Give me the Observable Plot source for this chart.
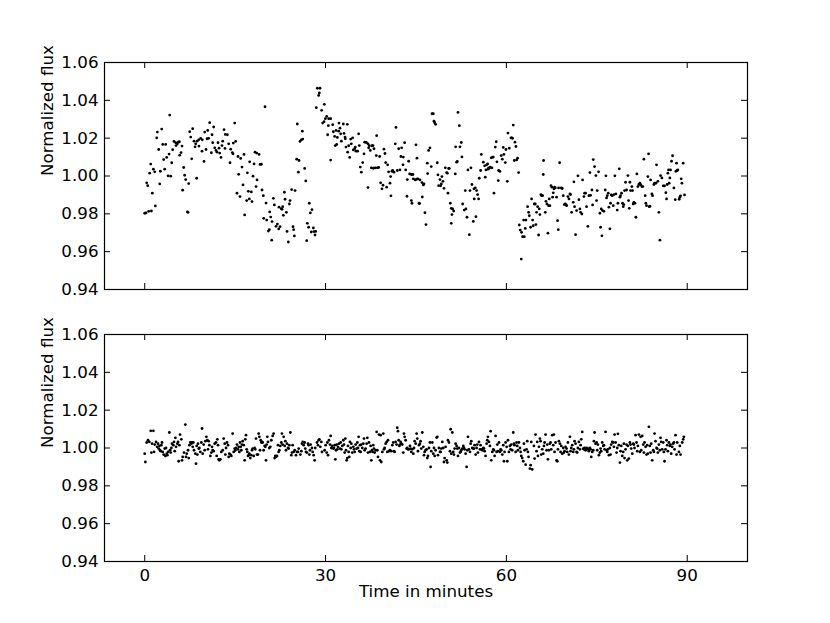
<!DOCTYPE html>
<html><head><meta charset="utf-8">
<script src="https://cdn.jsdelivr.net/npm/d3@7"></script>
<script src="https://cdn.jsdelivr.net/npm/@observablehq/plot@0.6"></script>
<style>
body{margin:0;background:#fff;}
#chart{position:relative;width:830px;height:623px;}
#chart svg{position:absolute;left:0;}
</style></head><body><div id="chart"></div>
<script>
const xDomain = [-6.67, 100];
const yDomain = [0.94, 1.06];
const xTicks = [0, 30, 60, 90];
const yTicks = [0.94, 0.96, 0.98, 1.00, 1.02, 1.04, 1.06];
const yLabel = "Normalized flux";
const xLabel = "Time in minutes";

// [time (min), normalized flux] — upper panel (raw light curve)
const topPoints = [
[0,0.9803],[0.22,0.9805],[0.66,0.9813],[1.11,0.9815],[1.77,0.9842],[0.33,0.9964],[0.5,0.9949],[1,1.0063],[0.83,1.0015],[1.44,1.0036],[1.66,1.0022],[1.27,0.9909],[2.49,0.9958],[2.6,1.0025],[2.1,1.0232],[2.82,1.0248],[1.99,1.0202],[2.99,1.0167],[3.48,1.0167],[2.32,1.014],[4.15,1.0322],[3.15,1.0087],[3.65,1.0098],[4.04,1.0116],[3.32,1.0036],[3.87,1.0001],[4.31,0.9999],[4.48,1.007],[4.64,1.0139],[4.86,1.0183],[5.14,1.0176],[5.42,1.017],[5.58,1.0179],[5.75,1.0181],[5.2,1.0161],[6.03,1.0124],[5.8,1.011],[6.19,1.0158],[6.47,1.0045],[6.63,1.0004],[6.8,0.9981],[7.3,0.996],[6.3,0.9925],[7.08,0.981],[7.19,0.9808],[7.46,1.0234],[7.96,1.025],[7.63,1.0206],[8.18,1.0184],[8.46,1.017],[8.68,1.0184],[8.96,1.0191],[9.29,1.0199],[9.56,1.0191],[8.35,1.0154],[9.0,1.0158],[7.79,1.0091],[8.62,0.9988],[9.51,1.0131],[9.84,1.0077],[10.17,1.014],[9.95,1.0232],[10.45,1.0241],[10.78,1.0282],[11.44,1.0259],[11.17,1.0218],[10.61,1.0199],[10.34,1.0197],[11.06,1.0123],[11.28,1.0176],[11.61,1.0149],[11.83,1.0135],[12,1.0126],[12.16,1.0176],[12.44,1.0121],[12.33,1.0147],[12.66,1.0098],[12.82,1.0161],[12.94,1.0184],[13.32,1.0146],[13.16,1.0245],[13.38,1.022],[13.71,1.0218],[13.93,1.017],[14.26,1.0142],[14.54,1.0124],[14.7,1.0174],[14.93,1.028],[15.09,1.0183],[14.15,1.007],[14.65,1.0117],[15.48,1.0103],[15.92,1.0093],[16.47,1.0114],[16.14,1.0047],[15.59,1.0009],[16.31,0.9953],[15.31,0.9909],[15.81,0.9891],[16.92,0.987],[17.36,0.9879],[16.58,0.9794],[17.19,0.9919],[17.41,1.0075],[17.03,1.0017],
[17.69,0.9916],[17.8,0.9865],[18.14,1.0064],[17.97,0.9999],[18.3,1.0126],[18.58,1.0121],[18.97,1.0114],[19.13,1.0061],[19.35,1.0062],[18.63,0.9979],[18.47,0.9944],[19.46,0.9926],[19.68,0.9896],[19.96,1.0366],[19.74,0.9776],[20.24,0.9767],[20.9,0.9783],[20.73,0.981],[20.13,0.9857],[21.34,0.9882],[21.51,0.9847],[21.12,0.9759],[20.51,0.9709],[20.68,0.9716],[21.07,0.9661],[21.78,0.9734],[22.01,0.9746],[22.23,0.972],[22.45,0.9732],[22.28,0.9835],[22.67,0.9827],[22.89,0.9838],[22.78,0.9824],[23,0.9792],[23.28,0.9877],[23.5,0.9808],[23.17,0.9914],[23.61,0.9707],[23.83,0.9651],[24.11,0.987],[24,0.9852],[24.38,0.9928],[24.6,0.9732],[24.71,0.9716],[24.94,0.9923],[24.83,0.9683],[25.21,1.0089],[25.49,1.002],[25.32,1.0275],[25.6,1.0082],[25.76,1.0183],[25.99,1.0191],[26.21,1.0195],[26.15,1.0237],[26.54,1.004],[26.72,0.9974],[26.87,0.9658],[26.98,0.975],[27.2,0.9729],[27.31,0.9856],[27.48,0.9805],[27.75,0.9822],[27.98,0.9725],[28.09,0.9706],[28.25,0.9688],[28.36,0.9707],[27.64,0.9704],[28.64,1.0464],[29.08,1.0464],[28.97,1.0439],[28.86,1.0426],[28.47,1.0361],[29.36,1.0347],[29.8,1.0379],[30.19,1.0315],[29.97,1.0303],[29.75,1.0287],[29.52,1.028],[30.52,1.0303],[30.85,1.0303],[30.46,1.0266],[31.18,1.0271],[30.35,1.0218],[31.29,1.0234],[31.51,1.0209],[31.74,1.0241],[31.96,1.0204],[32.23,1.028],[32.4,1.0253],[32.18,1.0237],[32.51,1.0223],[32.62,1.0184],[32.95,1.0275],[33.06,1.0225],[33.23,1.0206],[33.28,1.0197],[33.61,1.0273],[31.85,1.0167],[31.62,1.0161],[30.85,1.0084],[33.39,1.0153],[33.84,1.016],[33.67,1.0126],[34,1.0098],[34.17,1.0195],[34.5,1.0202],[34.61,1.0138],[34.28,1.017],
[34.83,1.0144],[35.05,1.0131],[35.33,1.0131],[34.94,1.0153],[35.6,1.0161],[35.49,1.0223],[35.77,1.0047],[35.94,1.002],[36.16,1.0071],[36.38,1.0117],[36.49,1.0179],[36.76,1.0177],[37.04,1.017],[37.26,1.016],[37.15,1.0149],[37.43,1.0135],[37.7,1.016],[37.87,1.0161],[38.04,1.0144],[37.59,1.0043],[37.93,1.0041],[38.26,1.0043],[38.59,1.0043],[38.81,1.0045],[38.48,1.0213],[38.42,1.0108],[38.98,1.0103],[39.14,0.9964],[39.36,0.9932],[39.53,0.9951],[40.14,0.9941],[40.69,0.9962],[39.69,1.0142],[39.86,1.0119],[39.97,1.0071],[40.3,1.0059],[40.47,1.0022],[40.8,0.9997],[41.02,1.0025],[41.35,1.002],[41.13,1.0029],[41.57,1.017],[41.68,1.0257],[41.91,1.0029],[42.13,1.0144],[42.35,1.0032],[42.51,1.0103],[42.62,1.0149],[42.9,1.01],[42.85,1.0059],[43.12,1.0176],[43.29,1.0032],[43.56,0.9981],[43.79,1.0078],[43.95,1.0011],[44.23,1.0008],[44.5,1.0008],[44.56,0.9985],[44.89,0.9979],[45.11,0.9983],[45.33,0.9985],[45.66,0.9979],[46,0.9965],[46.22,0.9953],[46.33,0.9958],[45,1.0165],[45.17,1.0094],[44.34,0.9856],[44.23,0.987],[43.51,0.9893],[45.61,0.9854],[45.5,0.9856],[46.05,0.9889],[46.49,0.9806],[46.66,0.9743],[40.85,0.9895],[37.04,0.9939],[47.1,1.0135],[47.32,1.0149],[46.88,1.0068],[46.94,1.0013],[47.54,1.005],[47.66,1.0329],[47.88,1.0329],[47.99,1.029],[48.1,1.0282],[48.26,1.0273],[48.54,1.007],[48.65,1.0006],[48.76,0.9949],[48.98,0.9981],[49.09,0.9948],[49.31,0.9997],[49.48,0.9972],[49.2,0.9958],[49.65,0.9935],[49.87,1.0043],[50.09,1.0018],[50.2,1.0015],[50.42,1.004],[50.31,0.9909],[50.53,1.004],[50.7,0.9856],[50.86,0.9829],[51.08,0.9826],[51.25,0.9815],[50.97,0.9796],[50.86,0.975],[51.52,1.0011],[51.75,1.0073],[51.58,1.0154],[51.86,1.0077],[52.3,1.0154],[52.52,1.0177],[52.63,1.0101],[51.97,1.0336],[52.19,1.0266],
[52.74,0.9852],[53.02,0.982],[53.29,0.9826],[53.46,0.9782],[53.85,0.969],[53.62,1.0032],[54.12,1.0043],[53.96,0.9923],[53.18,0.9923],[54.29,0.9955],[54.62,0.9932],[54.84,0.9937],[55.06,0.9923],[55.23,0.9902],[55.39,0.9879],[54.67,0.9879],[54.51,0.976],[54.95,0.9785],[55.5,0.9988],[55.73,1.0029],[55.84,1.0114],[56.17,1.0073],[56.39,1.0054],[56.5,0.9994],[56.61,1.0032],[56.72,1.0059],[56.89,1.0064],[56.94,1.0036],[57.05,1.0043],[57.16,1.0041],[57.33,1.0047],[57.49,1.0096],[57.6,1.0043],[57.72,1.01],[57.83,1.01],[57.94,0.9909],[58.16,1.0153],[58.32,1.0181],[58.43,1.0075],[58.65,0.9976],[58.71,1.0029],[58.93,1.0024],[59.15,1.0108],[59.32,1.0089],[59.48,1.0151],[59.59,1.0114],[59.82,1.0071],[59.93,1.014],[60.15,0.9972],[60.26,1.0227],[60.48,1.0147],[60.76,1.0202],[60.92,1.0202],[61.03,1.0199],[61.14,1.0269],[61.42,1.0179],[61.58,1.0156],[61.7,1.0085],[61.86,1.0094],[62.03,1.0018],[61.31,1.0082],[62.47,0.9561],[62.14,0.9741],[62.3,0.9714],[62.52,0.9702],[62.69,0.9679],[62.97,0.9679],[62.86,0.9767],[63.13,0.9723],[63.24,0.9767],[63.52,0.9838],[63.69,0.9808],[63.8,0.979],[64.02,0.9729],[64.18,0.9879],[64.35,0.9767],[64.46,0.9737],[64.63,0.9852],[64.79,0.9852],[64.9,0.9743],[65.01,0.9808],[65.18,0.9838],[65.34,0.9688],[65.45,0.9826],[65.56,0.9796],[65.73,0.9902],[65.84,0.9896],[66.01,0.9896],[66.17,1.0082],[66.12,1.0008],[66.45,0.9808],[66.56,0.9866],[66.73,0.9852],[66.89,0.9698],[67,0.9843],[67.11,0.9879],[67.22,0.9843],[67.39,0.9949],[67.56,0.9941],[67.67,0.9888],[67.78,0.9911],[67.89,0.9932],[68,0.9941],[68.11,0.9937],[68.33,0.9888],[68.49,0.9764],[68.61,0.9716],[68.66,0.9937],[68.83,1.007],[69.1,0.9937],[69.27,0.9934],[69.43,0.9896],[69.6,0.9849],[69.77,0.9852],[69.88,0.9849],[69.99,0.9843],[70.21,0.9891],[70.38,0.9879],[70.54,0.9905],
[70.65,0.9902],[70.82,0.9808],[71.09,0.9861],[71.2,0.9969],[71.31,0.9838],[71.48,0.969],[71.65,0.9817],[71.87,1.0001],[72.03,0.9875],[72.2,0.9826],[72.31,0.9808],[72.53,0.9799],[72.64,0.9979],[72.86,0.9891],[72.97,0.9909],[73.14,0.9909],[73.3,0.9838],[73.52,0.9734],[73.69,0.9896],[73.86,1.0018],[73.97,0.9898],[74.19,0.9926],[74.3,0.9847],[74.41,1.0087],[74.63,1.005],[74.85,1.0002],[74.96,0.987],[75.07,0.9923],[75.29,1.0022],[75.51,0.9803],[75.63,0.9729],[75.74,0.9826],[75.85,0.9684],[75.96,0.9817],[76.18,0.9813],[76.4,0.9926],[76.51,1.0001],[76.62,0.9884],[76.73,0.9896],[76.9,0.9909],[77.01,0.9835],[77.17,0.9721],[77.28,0.9856],[77.39,0.99],[77.56,0.9896],[77.73,0.9843],[77.84,0.9902],[78,1.0001],[78.17,0.9905],[78.39,0.982],[78.5,0.9856],[78.72,1.0038],[78.83,0.9888],[78.94,0.9896],[79.11,0.9909],[79.27,0.9856],[79.38,0.9838],[79.49,0.9849],[79.61,0.9923],[79.77,0.9967],[79.94,0.9926],[80.16,1.0002],[80.27,0.987],[80.38,0.9829],[80.49,0.9967],[80.6,0.9923],[80.82,0.9944],[80.93,0.9923],[81.04,0.9852],[81.15,0.9861],[81.32,0.9856],[81.48,0.9782],[81.65,1.0011],[81.82,0.9944],[81.98,0.9955],[82.15,0.9962],[82.31,0.9953],[82.48,0.9944],[82.65,0.9944],[82.81,1.0089],[83.03,0.9896],[83.14,0.9856],[83.25,0.9843],[83.47,0.9997],[83.59,1.0117],[83.7,0.9838],[83.81,0.984],[83.92,0.9979],[84.14,0.9905],[84.25,0.9896],[84.47,0.9955],[84.58,0.9962],[84.8,0.9962],[84.91,1.0059],[85.13,0.9972],[85.3,0.9808],[85.47,0.9661],[85.58,1.0002],[85.8,0.999],[86.02,0.9948],[86.24,0.9948],[86.46,0.9912],[86.57,0.9879],[86.68,0.9955],[86.79,1.0015],[86.9,1.0032],[87.01,0.9962],[87.12,0.999],[87.23,1.0032],[87.4,1.0078],[87.57,1.0107],[87.79,0.9937],[88.01,0.9875],[88.12,1.0025],[88.23,1.0068],[88.34,1.0029],[88.45,1.0032],[88.67,0.9877],[88.78,0.9888],[88.89,0.9895],[89,0.9985],[89.12,0.9962],[89.33,1.0068],[89.55,0.99]
];

// [time (min), normalized flux] — lower panel (corrected light curve)
const bottomPoints = [
[0,0.997],[0.11,0.9926],[0.33,1.0029],[0.55,1.0041],[0.77,1.0032],[1,1.0091],[1.44,1.0091],[1.11,0.9976],[1.22,1.0023],[1.55,0.9979],[1.66,1.0018],[1.88,1.0032],[2.05,1.0006],[2.21,1.0023],[2.32,0.9997],[2.43,1.0011],[2.54,0.9988],[2.65,0.9983],[2.76,1.0015],[2.87,1.0029],[2.99,0.9979],[3.15,0.9965],[3.32,0.9997],[3.43,0.9958],[3.54,1],[3.65,0.997],[3.76,0.9962],[3.87,0.9979],[4.09,1.0082],[4.2,0.9988],[4.31,0.9976],[4.42,1],[4.53,1.0023],[4.75,1.0015],[4.86,1.0032],[4.98,0.9983],[5.09,1.0054],[5.2,1.0006],[5.42,1.0023],[5.53,1.0032],[5.64,0.993],[5.75,1.0015],[5.86,1.0071],[6.08,1.0046],[6.19,0.9935],[6.3,0.9953],[6.52,0.9976],[6.74,1.0124],[6.85,0.9953],[6.97,0.997],[7.19,0.9988],[7.3,0.9947],[7.41,1.0015],[7.57,1.0029],[7.74,1.0023],[7.85,1.0029],[7.96,1.0006],[8.07,1.0029],[8.18,0.9988],[8.4,0.997],[8.51,0.9917],[8.62,1.0011],[8.73,0.9965],[8.84,1.0023],[8.96,0.9997],[9.07,1],[9.23,0.9979],[9.4,1.0029],[9.51,1.0103],[9.62,0.997],[9.78,1.0018],[9.95,0.9988],[10.06,1.0036],[10.23,1.0059],[10.39,1.0041],[10.5,0.9993],[10.61,1.0036],[10.72,1.0015],[10.89,0.9958],[11.06,0.9976],[11.17,1.0006],[11.28,0.9988],[11.44,0.9983],[11.61,1.0023],[11.83,1.0029],[11.94,0.9958],[12.05,1.0046],[12.16,1.0015],[12.27,0.994],[12.38,0.9935],[12.55,0.994],[12.71,0.9979],[12.94,0.9988],[13.1,1.005],[13.27,1.0023],[13.38,0.9965],[13.49,1],[13.65,1.0029],[13.82,1.0015],[13.93,0.9953],[14.04,0.997],[14.21,0.9965],[14.37,0.9958],[14.59,1.0076],[14.76,0.9979],[14.93,0.9997],[15.04,0.9988],[15.15,1],[15.31,1.0018],[15.48,0.9993],[15.59,1.0006],[15.7,0.9979],[15.81,1.0029],[15.92,1.0006],[16.03,0.9988],[16.14,1.0018],[16.25,1.0036],[16.42,1.0015],[16.58,0.9935],[16.69,1.0046],[16.8,1.0068],[16.92,0.9993],[17.03,0.9979],[17.14,0.9958],[17.25,0.9962],[17.36,0.997],[17.52,0.9947],[17.69,0.9962],[17.8,0.9988],[17.91,0.9997],[18.08,0.9958],[18.24,1],[18.35,0.9993],[18.46,1.005],[18.63,0.9965],[18.79,0.9965],[18.91,1.0076],[19.02,1.0059],[19.13,0.9988],[19.24,1.0041],[19.35,1.0029],[19.46,1.0032],[19.57,1.0029],[19.73,0.9988],[19.9,1.0011],[20.01,1.0006],[20.12,0.9935],[20.23,1.0018],[20.34,1.0059],[20.45,1.0032],[20.67,1],[20.84,1.0006],[21.01,1.0041],[21.23,1.0064],[21.39,1.0076],[21.56,0.9947],[21.67,0.9958],[21.78,0.9953],[21.95,0.9958],[22.11,1.0015],[22.22,0.9979],[22.33,0.9988],[22.5,1.0011],[22.66,1.0029],[22.77,1.0076],[22.89,1.0018],[23.05,1.0059],[23.22,1.0011],[23.33,1.0036],[23.44,0.9988],[23.6,1.0023],[23.77,1],[23.88,0.9997],[23.99,1.0015],[24.16,1.0082],[24.32,0.9962],[24.43,0.9976],[24.54,1.0015],[24.71,0.9979],[24.88,0.9988],[25.1,0.9962],[25.26,0.9979],[25.43,0.9979],[25.54,0.9997],[25.82,0.9965],[25.98,0.9983],[26.09,1.0023],[26.2,1.0032],[26.37,1.0015],[26.53,1.0029],[26.64,0.9997],[26.75,0.9979],[26.92,0.9976],[27.09,1.0023],[27.2,1.0015],[27.31,0.9965],[27.42,0.9988],[27.53,1.0018],[27.75,1],[27.86,0.9979],[28.03,0.9962],[28.19,0.9935],[28.3,1],[28.58,1.0029],[28.75,1.0015],[28.86,1.0041],[28.97,1.0046],[29.13,1.0006],[29.3,1.0032],[29.41,0.9979],
[29.85,0.9988],[30.02,1.0015],[30.19,0.9976],[30.3,1.0029],[30.41,0.9962],[30.57,1.0041],[30.74,1.0018],[30.85,1.0064],[30.96,1],[31.12,1.0011],[31.29,0.9997],[31.4,1],[31.51,1.0015],[31.62,0.994],[31.73,0.9988],[31.84,1.0018],[31.95,0.9993],[32.06,1.0006],[32.23,1.0023],[32.4,0.9997],[32.51,1.0029],[32.62,0.9993],[32.78,1.0011],[32.95,1.0041],[33.06,1.0018],[33.17,0.9976],[33.28,1.005],[33.39,0.9988],[33.5,0.9935],[33.61,0.9947],[33.72,1.0011],[33.83,0.9979],[33.94,0.9953],[34.05,1.0032],[34.17,1],[34.28,1.0023],[34.44,0.9976],[34.61,1.0006],[34.72,0.9993],[34.83,0.9979],[35,1.0018],[35.16,0.9997],[35.27,1.0029],[35.38,1],[35.49,1.0059],[35.6,0.9983],[35.71,1.0015],[35.82,0.9979],[35.93,1.0018],[36.1,1],[36.27,1.0023],[36.38,1.005],[36.49,0.9988],[36.65,0.9997],[36.82,1.0023],[36.93,1.0054],[37.04,0.9976],[37.21,1.0029],[37.37,0.9979],[37.48,1.0011],[37.59,0.9935],[37.7,0.9988],[37.81,0.9979],[37.92,1.0015],[38.03,0.9997],[38.15,0.9976],[38.31,0.9988],[38.48,1.0085],[38.59,0.9988],[38.7,0.9953],[38.86,1.0071],[39.03,0.9935],[39.14,1.0068],[39.25,0.9926],[39.42,0.9979],[39.58,1.0076],[39.69,0.9993],[39.8,1],[39.97,1.0023],[40.14,1.0032],[40.25,0.9979],[40.36,1.0041],[40.52,0.9983],[40.69,0.9988],[40.91,0.9983],[41.08,1.0015],[41.24,1.0029],[41.35,0.9983],[41.46,0.9979],[41.63,1.0032],[41.79,1.0018],[41.9,1.0107],[42.01,1.0089],[42.13,1.0041],[42.24,1.0011],[42.35,1.0018],[42.46,1.0032],[42.57,1.0023],[42.73,1.0018],[42.9,0.9976],[43.01,1.0076],[43.12,1.0059],[43.29,1.0041],[43.45,0.9997],[43.56,1],[43.67,0.9993],[43.84,0.9993],[44.01,1.0011],[44.12,0.9997],[44.23,0.9979],[44.39,0.9993],[44.56,0.997],[44.67,1],[44.78,1.0036],[44.95,1.0023],[45.11,1.0076],[45.22,1.005],[45.33,0.9983],[45.5,1.0015],[45.66,1.0023],[45.77,1.0036],[45.88,0.9997],[46.05,1.0082],[46.22,1.0006],[46.33,0.9962],[46.44,0.9979],[46.6,0.9988],[46.77,0.9993],[46.88,0.9947],[46.99,0.9958],[47.16,1],[47.32,1.0029],[47.43,0.99],[47.54,0.9983],[47.71,1.0029],[47.87,0.997],[47.99,1],[48.1,0.9958],[48.26,0.9988],[48.43,1.0055],[48.54,1.0059],[48.65,0.9962],[48.81,1],[48.98,0.9979],[49.09,0.9979],[49.2,0.9997],[49.37,1.0032],[49.53,1],[49.64,0.9926],[49.75,0.9947],[49.92,1.0006],[50.09,0.9935],[50.2,0.9923],[50.31,1.0041],[50.47,1.0029],[50.64,0.9983],[50.75,1.0099],[50.86,0.997],[51.03,1.0082],[51.19,0.9979],[51.3,0.9965],[51.41,0.9997],[51.58,1.0023],[51.74,1.0011],[51.85,0.9997],[51.97,0.9958],[52.13,1],[52.3,0.9976],[52.41,0.9979],[52.52,0.9988],[52.68,0.9997],[52.85,1.0011],[52.96,1],[53.07,0.9993],[53.24,0.997],[53.4,0.99],[53.51,0.9988],[53.62,1.0059],[53.79,0.9993],[53.96,0.9979],[54.07,1.0023],[54.18,1.0036],[54.34,1],[54.51,0.9997],[54.62,0.9997],[54.73,1.0015],[54.9,0.9965],[55.06,1],[55.17,1.0018],[55.28,0.9976],[55.45,1.0032],[55.61,0.9993],[55.72,1.0015],[55.84,0.9993],[56,0.9988],[56.17,1],[56.28,0.9997],[56.39,0.9983],[56.55,0.9958],[56.72,1.0023],[56.83,1.0041],[56.94,1.0059],[57.11,1.0032],[57.27,1.0011],[57.38,1.0089],[57.49,0.9935],[57.66,0.9979],[57.83,0.9993],[57.94,0.9988],[58.05,0.9958],[58.21,1.0064],[58.38,0.9979],[58.49,1.0018],[58.6,0.9983],[58.77,1.0029],[58.93,0.9979],[59.04,0.9993],[59.15,0.9988],[59.32,0.9965],[59.48,1.0015],[59.59,0.993],
[59.7,0.9979],[59.87,1.0029],[60.04,1.0006],[60.15,0.993],[60.26,1.0041],[60.42,0.9979],[60.59,1.0011],[60.7,0.9993],[60.81,1.0018],[60.97,0.9988],[61.14,1.0082],[61.25,1.0023],[61.36,1.0015],[61.53,0.9979],[61.69,1.0029],[61.8,1.0011],[61.91,0.9988],[62.08,1.0029],[62.25,1],[62.36,0.9979],[62.47,0.9958],[62.63,0.9947],[62.8,0.993],[62.91,1.0023],[63.02,0.9988],[63.19,0.9912],[63.35,0.9993],[63.46,1.0036],[63.57,0.9979],[63.68,0.9953],[63.9,0.9891],[64.02,0.9909],[64.13,1.0032],[64.29,0.9887],[64.57,1.0011],[64.68,0.9944],[64.84,1.0071],[65.01,0.9983],[65.12,1.0032],[65.23,0.9958],[65.4,1.0006],[65.56,1.005],[65.67,1.0036],[65.78,0.9965],[65.95,0.9993],[66.12,0.997],[66.23,1.0011],[66.34,1.0029],[66.5,1.0071],[66.67,0.9988],[66.78,1.0018],[66.89,0.994],[67.06,0.9988],[67.22,1.0023],[67.33,1.0029],[67.44,0.9993],[67.61,1.0068],[67.77,1.0015],[67.88,1.0071],[67.99,0.9979],[68.16,1.0029],[68.33,0.9935],[68.44,0.993],[68.55,0.9993],[68.71,1.0036],[68.88,1.0023],[68.99,0.9979],[69.1,1.0011],[69.27,0.997],[69.43,1],[69.54,0.9976],[69.65,0.9983],[69.82,1.0006],[69.99,0.9997],[70.1,0.9979],[70.21,1.0029],[70.37,0.9965],[70.54,1.0059],[70.65,0.9983],[70.76,1],[70.93,1.0015],[71.09,0.9979],[71.2,0.9993],[71.31,1.0036],[71.48,1.0023],[71.64,0.9979],[71.75,0.9976],[71.86,1],[72.03,1.0032],[72.2,0.9993],[72.31,1.0015],[72.42,1.0046],[72.58,1.0085],[72.75,0.9997],[72.86,0.9993],[72.97,1],[73.14,0.9988],[73.3,1],[73.41,0.9993],[73.52,0.9997],[73.69,0.9983],[73.86,1],[73.97,0.9993],[74.08,0.9953],[74.24,0.9979],[74.41,0.9988],[74.52,1.0036],[74.63,1.0082],[74.79,1.0023],[74.96,1.0029],[75.07,0.9988],[75.18,1.0018],[75.35,0.9962],[75.51,0.9976],[75.62,0.9997],[75.73,0.9983],[75.9,1.0029],[76.07,1.0011],[76.18,1.0015],[76.29,0.9993],[76.45,1.0085],[76.62,0.9988],[76.73,0.9979],[76.84,0.9993],[77.01,0.9962],[77.17,1],[77.28,0.9965],[77.39,1.0018],[77.56,1.0032],[77.72,1.0029],[77.84,1.0006],[77.95,1.0071],[78.11,1.0029],[78.28,0.9976],[78.39,1],[78.5,1.0075],[78.66,1.0015],[78.83,0.9923],[78.94,0.9983],[79.05,1.0011],[79.22,0.9958],[79.38,0.9979],[79.49,1.0023],[79.6,0.9947],[79.77,0.9993],[79.94,1.0018],[80.05,0.9935],[80.16,1.0011],[80.32,0.9944],[80.49,1.0029],[80.6,1.0018],[80.71,0.9997],[80.88,0.997],[81.04,1.0023],[81.15,1.0018],[81.26,1],[81.43,1.0068],[81.59,1.0029],[81.7,0.9983],[81.82,1.0011],[81.98,1.0071],[82.15,0.9979],[82.26,1.0059],[82.37,0.9988],[82.53,1.0064],[82.7,1.0018],[82.81,0.9976],[82.92,1.0029],[83.09,1.0006],[83.25,0.9965],[83.36,1.0015],[83.47,0.997],[83.64,1.0112],[83.8,1.0011],[83.92,0.9976],[84.03,1.0023],[84.19,0.9935],[84.36,0.9988],[84.47,0.9979],[84.58,1.0076],[84.74,1.0036],[84.91,1],[85.02,0.9997],[85.13,0.9976],[85.3,1.0018],[85.46,0.9988],[85.57,1.0054],[85.68,1.0032],[85.85,0.9993],[86.02,1.0029],[86.13,0.9979],[86.24,0.993],[86.4,0.9993],[86.57,1.0041],[86.68,1.0015],[86.79,0.9983],[86.96,1.0029],[87.12,1.0011],[87.23,1.0018],[87.34,0.997],[87.51,1.0006],[87.67,1.0023],[87.79,1.0029],[87.9,0.9993],[88.06,1.0068],[88.23,0.9965],[88.34,1.0029],[88.62,0.9979],[88.78,1.0011],[88.89,0.9965],[89.17,1.0029],[89.33,1.0046],[89.44,1.0059]
];

const W = 830, ML = 104, MR = 83, PH = 227, TICK = 6, FS = "16.7px";
const PW = W - ML - MR;

function panel(points, {height, marginTop, marginBottom, showX}) {
  const marks = [
    Plot.frame({stroke: "black", strokeWidth: 1.2}),
    Plot.ruleX(xTicks, {x: d => d, insetTop: PH - TICK, stroke: "black"}),
    Plot.ruleX(xTicks, {x: d => d, insetBottom: PH - TICK, stroke: "black"}),
    Plot.ruleY(yTicks, {y: d => d, insetRight: PW - TICK, stroke: "black"}),
    Plot.ruleY(yTicks, {y: d => d, insetLeft: PW - TICK, stroke: "black"}),
    Plot.dot(points, {x: d => d[0], y: d => d[1], r: 1.4, fill: "black", stroke: null}),
    Plot.text([yLabel], {text: d => d, frameAnchor: "left", dx: -57, rotate: -90, fontSize: FS, fill: "black"})
  ];
  if (showX) marks.push(Plot.text([xLabel], {text: d => d, frameAnchor: "bottom", dy: 35, fontSize: FS, fill: "black"}));
  return Plot.plot({
    width: W, height, marginLeft: ML, marginRight: MR, marginTop, marginBottom,
    style: {fontFamily: "DejaVu Sans", fontSize: FS, color: "black", background: "white", overflow: "visible"},
    x: showX
      ? {domain: xDomain, ticks: xTicks, tickSize: 0, tickPadding: 8, label: null, tickFormat: d => String(d)}
      : {domain: xDomain, axis: null},
    y: {domain: yDomain, ticks: yTicks, tickSize: 0, tickPadding: 6, label: null, tickFormat: d => d.toFixed(2)},
    marks
  });
}

const chart = document.getElementById("chart");
const top1 = panel(topPoints, {height: 300, marginTop: 62, marginBottom: 11, showX: false});
top1.style.top = "0px";
const bot = panel(bottomPoints, {height: 323, marginTop: 34, marginBottom: 62, showX: true});
bot.style.top = "300px";
chart.appendChild(top1);
chart.appendChild(bot);
</script></body></html>
